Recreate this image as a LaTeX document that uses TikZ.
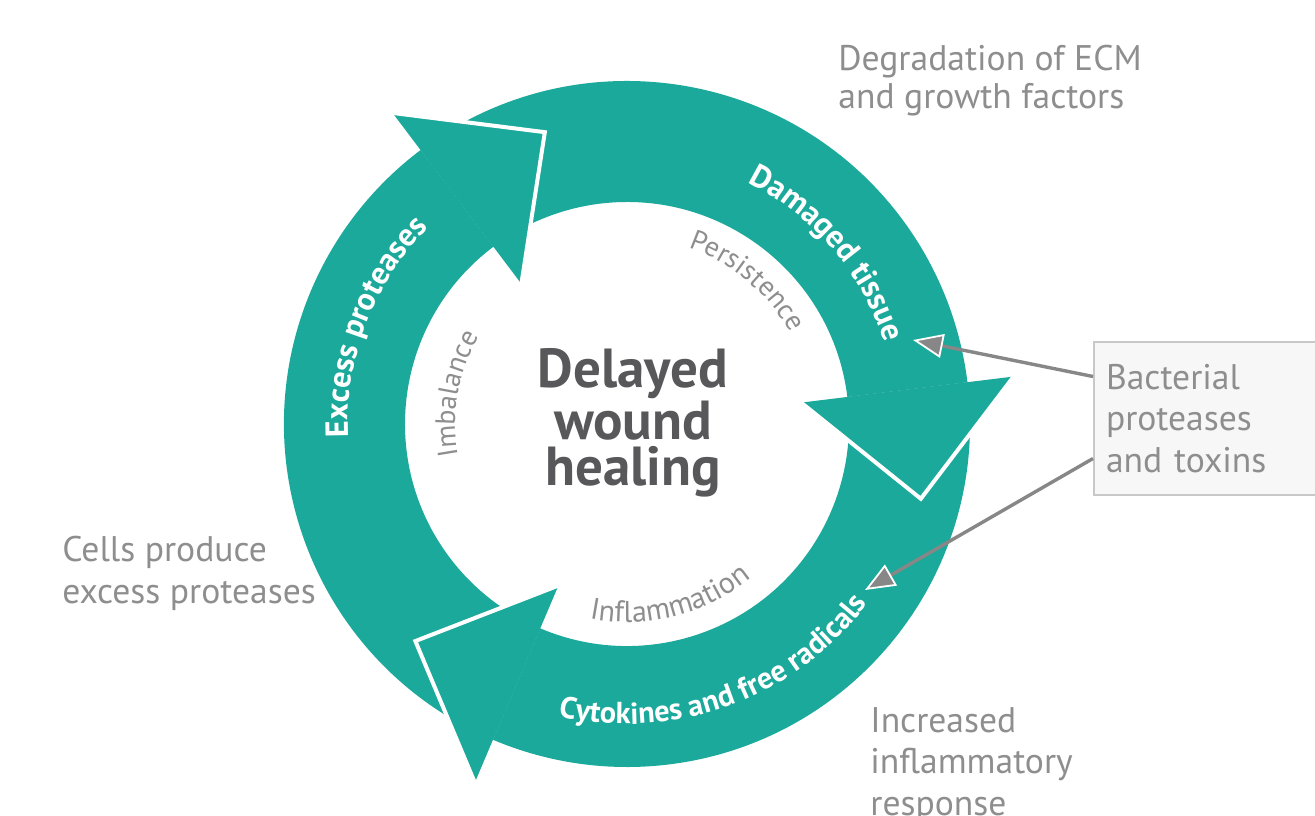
\documentclass[tikz,border=0pt]{standalone}
\usepackage{fontspec}
\setmainfont{PT Sans}
\usetikzlibrary{calc,decorations.text,arrows.meta}
\definecolor{woundteal}{HTML}{1AA99A}
\definecolor{labelgray}{HTML}{8E8E8E}
\definecolor{centregray}{HTML}{58585A}
\definecolor{boxgray}{HTML}{C8C8C8}

\begin{document}
\begin{tikzpicture}[x=0.5pt, y=0.5pt,
    ring/.style={fill=woundteal},
    tipedge/.style={draw=white, line width=2pt},
    label/.style={text=labelgray, align=left, inner sep=0pt, font=\fontsize{17.8}{20.8}\selectfont},
    onring/.style 2 args={decorate, decoration={text along path, text align=center,
        text color=white, text={|\fontsize{#1}{#1}\bfseries\selectfont|#2}}},
    inring/.style 2 args={decorate, decoration={text along path, text align=center,
        text color=labelgray, text={|\fontsize{#1}{#1}\selectfont|#2}}},
    conn/.style={draw=labelgray!95!black, line width=1.7pt,
        -{Triangle[length=15pt, width=12pt, fill=labelgray!95!black, color=white, line width=0.9pt]}}]

  \path[use as bounding box, fill=white] (-627,-391) rectangle (688,424);

  \foreach \b in {127,7,-113}
    \fill[ring] (\b+120:343) arc[start angle=\b+120, end angle=\b, radius=343]
      -- (\b:222) arc[start angle=\b, end angle=\b+120, radius=222] -- cycle;
  \foreach \b in {127,7,-113} {
    \begin{scope}[rotate=\b]
      \fill[ring] (389.5,0) -- (282.5,-110) -- (175.5,0) -- cycle;
      \draw[tipedge] (389.5,0) -- (282.5,-110) -- (175.5,0);
    \end{scope}
  }

  \path[onring={16}{Excess proteases}] (199:279) arc[start angle=199, end angle=119, radius=279];
  \path[onring={16}{Damaged tissue}] (81:270) arc[start angle=81, end angle=0, radius=270];
  \path[onring={15.2}{Cytokines and free radicals}] (250:300) arc[start angle=250, end angle=330, radius=300];
  \path[inring={14}{Persistence}] (80:187) arc[start angle=80, end angle=20, radius=187];
  \path[inring={14}{Imbalance}] (200:172) arc[start angle=200, end angle=140, radius=172];
  \path[inring={15}{Inflammation}] (250:198) arc[start angle=250, end angle=318, radius=198];

  \node[text=centregray, font=\fontsize{27.5}{23.3}\selectfont\bfseries, align=center] (delayed) at (6,1) {Delayed\\wound\\healing};

  \node[label, anchor=west, font=\fontsize{17.8}{19}\selectfont] (ecm) at (211,343) {Degradation of ECM\\and growth factors};
  \node[label, anchor=west] (cells) at (-565,-149.5) {Cells produce\\excess proteases};
  \node[label, anchor=west] (inflam) at (243,-341) {Increased\\inflammatory\\response};
  \node[label, anchor=west, draw=boxgray, fill=gray!6, line width=1pt, text width=115pt,
    inner xsep=6pt, minimum height=76.5pt] (bact) at (466,5.5) {Bacterial\\proteases\\and toxins};

  \coordinate (hitA) at (286,84);
  \coordinate (hitB) at (238,-166);
  \draw[conn] ($(bact.west)+(0,42)$) -- (hitA);
  \draw[conn] ($(bact.west)+(0,-40)$) -- (hitB);
\end{tikzpicture}
\end{document}
